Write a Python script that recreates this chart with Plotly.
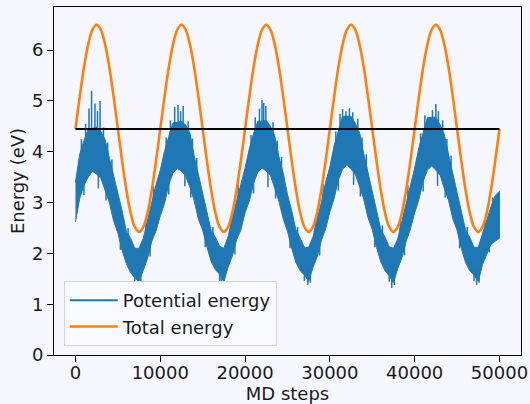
import plotly.graph_objects as go

# ---------------- data ----------------
md_steps = list(range(0, 50001, 500))  # sampling positions (MD steps)

# Potential energy: upper / lower edge of the noisy band (eV)
pot_upper = [
    3.40, 3.95, 4.22, 4.44, 4.46, 4.49, 4.40, 4.24, 3.88, 3.54,
    3.14, 2.84, 2.43, 2.30, 2.10, 2.10, 2.30, 2.66, 3.00, 3.35,
    3.64, 4.01, 4.30, 4.57, 4.58, 4.60, 4.53, 4.37, 3.92, 3.56,
    3.18, 2.87, 2.45, 2.32, 2.14, 2.10, 2.33, 2.70, 3.02, 3.38,
    3.68, 4.06, 4.36, 4.60, 4.60, 4.62, 4.50, 4.32, 3.90, 3.58,
    3.16, 2.84, 2.46, 2.30, 2.12, 2.12, 2.32, 2.68, 3.00, 3.40,
    3.70, 4.12, 4.43, 4.70, 4.70, 4.70, 4.56, 4.38, 3.96, 3.60,
    3.20, 2.88, 2.48, 2.32, 2.13, 2.10, 2.28, 2.64, 2.98, 3.38,
    3.68, 4.08, 4.40, 4.67, 4.68, 4.68, 4.53, 4.34, 3.94, 3.58,
    3.18, 2.86, 2.46, 2.32, 2.12, 2.12, 2.38, 2.68, 2.92, 3.14,
    3.22,
]
pot_lower = [
    2.62, 3.08, 3.34, 3.50, 3.62, 3.56, 3.48, 3.24, 3.00, 2.64,
    2.40, 2.06, 1.80, 1.62, 1.52, 1.44, 1.68, 1.90, 2.24, 2.44,
    2.74, 2.98, 3.35, 3.58, 3.67, 3.62, 3.52, 3.30, 3.04, 2.67,
    2.46, 2.13, 1.84, 1.68, 1.59, 1.44, 1.73, 1.95, 2.27, 2.46,
    2.80, 3.03, 3.38, 3.60, 3.68, 3.62, 3.54, 3.28, 3.02, 2.68,
    2.44, 2.10, 1.82, 1.66, 1.57, 1.45, 1.72, 1.93, 2.26, 2.48,
    2.82, 3.08, 3.44, 3.66, 3.74, 3.66, 3.56, 3.32, 3.06, 2.70,
    2.47, 2.12, 1.84, 1.66, 1.56, 1.42, 1.70, 1.92, 2.24, 2.48,
    2.80, 3.06, 3.42, 3.64, 3.72, 3.64, 3.54, 3.28, 3.04, 2.68,
    2.46, 2.10, 1.82, 1.66, 1.57, 1.45, 1.78, 1.98, 2.18, 2.24,
    2.30,
]

# Potential energy: noise bristles sticking out of the band
# (position, tip value, base value inside the band)
spike_steps = [
    1600, 1900, 2300, 2600, 2900, 700, 1200, 3300, 3800, 4300, 6200, 8300, 9200,
    1000, 2700, 3600, 5300, 7000, 7400, 7700, 8800,
    11700, 12100, 12400, 12700, 10700, 11200, 13300, 13800, 14300, 16200, 18300, 19200,
    11000, 12900, 13600, 15300, 17000, 17200, 17500, 18800,
    21700, 22000, 22200, 22450, 20700, 21200, 23300, 23800, 24300, 26200, 28300, 29200,
    21000, 22700, 23600, 25300, 27000, 27400, 27700, 28800,
    31500, 31900, 32300, 32700, 30700, 31200, 33300, 33800, 34300, 36200, 38300, 39200,
    31000, 32800, 33600, 35300, 37000, 37300, 37600, 38800,
    42100, 42500, 42800, 40700, 41200, 43300, 43800, 44300, 46200, 48300, 49200,
    41000, 42700, 43600, 45300, 47000, 47300, 47600, 48800,
]
spike_tip = [
    4.85, 5.20, 4.95, 4.80, 5.00, 4.25, 4.55, 4.48, 4.18, 3.85, 2.50, 2.65, 3.32,
    3.15, 3.28, 3.04, 2.07, 1.40, 1.40, 1.42, 1.94,
    4.88, 4.92, 4.80, 4.90, 4.28, 4.62, 4.60, 4.26, 3.88, 2.52, 2.70, 3.35,
    3.16, 3.32, 3.10, 2.12, 1.46, 1.36, 1.40, 1.98,
    4.85, 5.02, 4.96, 4.90, 4.33, 4.68, 4.58, 4.22, 3.90, 2.52, 2.68, 3.36,
    3.18, 3.30, 3.08, 2.10, 1.46, 1.38, 1.42, 1.96,
    4.84, 4.80, 4.86, 4.78, 4.40, 4.75, 4.65, 4.28, 3.95, 2.55, 2.66, 3.34,
    3.24, 3.35, 3.12, 2.12, 1.44, 1.32, 1.38, 1.96,
    4.82, 4.94, 4.80, 4.36, 4.72, 4.62, 4.25, 3.92, 2.52, 2.64, 3.10,
    3.22, 3.33, 3.10, 2.10, 1.45, 1.38, 1.42, 2.02,
]
spike_base = [
    4.30, 4.30, 4.30, 4.30, 4.30, 3.90, 4.10, 4.10, 3.85, 3.50, 2.20, 2.35, 2.95,
    3.50, 3.75, 3.40, 2.40, 1.65, 1.70, 1.70, 2.30,
    4.40, 4.40, 4.40, 4.40, 3.95, 4.20, 4.25, 3.90, 3.50, 2.25, 2.40, 3.00,
    3.50, 3.80, 3.45, 2.45, 1.70, 1.70, 1.70, 2.30,
    4.40, 4.40, 4.40, 4.40, 4.00, 4.25, 4.20, 3.90, 3.55, 2.25, 2.40, 3.00,
    3.50, 3.80, 3.45, 2.45, 1.70, 1.70, 1.70, 2.30,
    4.50, 4.50, 4.50, 4.50, 4.05, 4.30, 4.30, 3.95, 3.60, 2.30, 2.40, 3.00,
    3.55, 3.85, 3.50, 2.45, 1.70, 1.70, 1.70, 2.30,
    4.50, 4.50, 4.50, 4.00, 4.30, 4.25, 3.90, 3.55, 2.25, 2.40, 2.90,
    3.55, 3.80, 3.45, 2.45, 1.70, 1.70, 1.70, 2.20,
]

# Total energy (eV)
total_energy = [
    4.45, 5.08, 5.66, 6.11, 6.40, 6.50, 6.40, 6.11, 5.66, 5.08,
    4.45, 3.82, 3.25, 2.80, 2.52, 2.42, 2.52, 2.80, 3.25, 3.82,
    4.45, 5.08, 5.66, 6.11, 6.40, 6.50, 6.40, 6.11, 5.66, 5.08,
    4.45, 3.82, 3.25, 2.80, 2.52, 2.42, 2.52, 2.80, 3.25, 3.82,
    4.45, 5.08, 5.66, 6.11, 6.40, 6.50, 6.40, 6.11, 5.66, 5.08,
    4.45, 3.82, 3.25, 2.80, 2.52, 2.42, 2.52, 2.80, 3.25, 3.82,
    4.45, 5.08, 5.66, 6.11, 6.40, 6.50, 6.40, 6.11, 5.66, 5.08,
    4.45, 3.82, 3.25, 2.80, 2.52, 2.42, 2.52, 2.80, 3.25, 3.82,
    4.45, 5.08, 5.66, 6.11, 6.40, 6.50, 6.40, 6.11, 5.66, 5.08,
    4.45, 3.82, 3.25, 2.80, 2.52, 2.42, 2.52, 2.80, 3.25, 3.82,
    4.45,
]

# Reference (initial) energy line
ref_steps = [0, 50000]
ref_energy = [4.45, 4.45]

x_ticks = [0, 10000, 20000, 30000, 40000, 50000]
y_ticks = [0, 1, 2, 3, 4, 5, 6]

BLUE = "#1f77b4"
ORANGE = "#ff7f0e"
BG = "#f6f7fe"
FONT = "DejaVu Sans"
TXT = "#1a1a1a"
FS = 18

# ---------------- figure ----------------
fig = go.Figure()

band_x = md_steps + md_steps[::-1]
band_y = pot_upper + pot_lower[::-1]
fig.add_trace(go.Scatter(
    x=band_x, y=band_y, mode="lines", fill="toself",
    fillcolor=BLUE, line=dict(color=BLUE, width=1),
    showlegend=False, hoverinfo="skip"))

sx, sy = [], []
for s, t, b in zip(spike_steps, spike_tip, spike_base):
    sx += [s, s, None]
    sy += [b, t, None]
fig.add_trace(go.Scatter(
    x=sx, y=sy, mode="lines", line=dict(color=BLUE, width=1.5),
    showlegend=False, hoverinfo="skip"))

fig.add_trace(go.Scatter(
    x=[None], y=[None], mode="lines", name="Potential energy",
    line=dict(color=BLUE, width=2), legendgroup="a"))

fig.add_trace(go.Scatter(
    x=md_steps, y=total_energy, mode="lines", name="Total energy",
    line=dict(color=ORANGE, width=2.6, shape="spline", smoothing=1.0),
    legendgroup="b"))

fig.add_trace(go.Scatter(
    x=ref_steps, y=ref_energy, mode="lines",
    line=dict(color="black", width=2), showlegend=False))

axis_common = dict(
    showline=True, linecolor="black", linewidth=1, mirror=True,
    ticks="outside", ticklen=6, tickwidth=1, tickcolor="black",
    showgrid=False, zeroline=False, automargin=False,
    tickfont=dict(family=FONT, size=FS, color=TXT),
)

fig.update_xaxes(
    range=[-2530, 52540], tickvals=x_ticks, tickformat="d",
    ticklabelstandoff=-5,
    title=dict(text="MD steps", font=dict(family=FONT, size=FS, color=TXT), standoff=0),
    **axis_common)
fig.update_yaxes(
    range=[0, 6.85], tickvals=y_ticks,
    title=dict(text="Energy (eV)", font=dict(family=FONT, size=FS, color=TXT), standoff=2),
    **axis_common)

fig.update_layout(
    width=530, height=404,
    margin=dict(l=54, r=9, t=7, b=49),
    paper_bgcolor=BG, plot_bgcolor=BG,
    font=dict(family=FONT, size=FS, color=TXT),
    legend=dict(
        x=0.021, y=0.026, xanchor="left", yanchor="bottom",
        bgcolor="#f9faff", bordercolor="#d3d3d8", borderwidth=1,
        font=dict(family=FONT, size=FS, color=TXT),
        tracegroupgap=0, itemwidth=48,
    ),
)

fig.write_html("out.html")
